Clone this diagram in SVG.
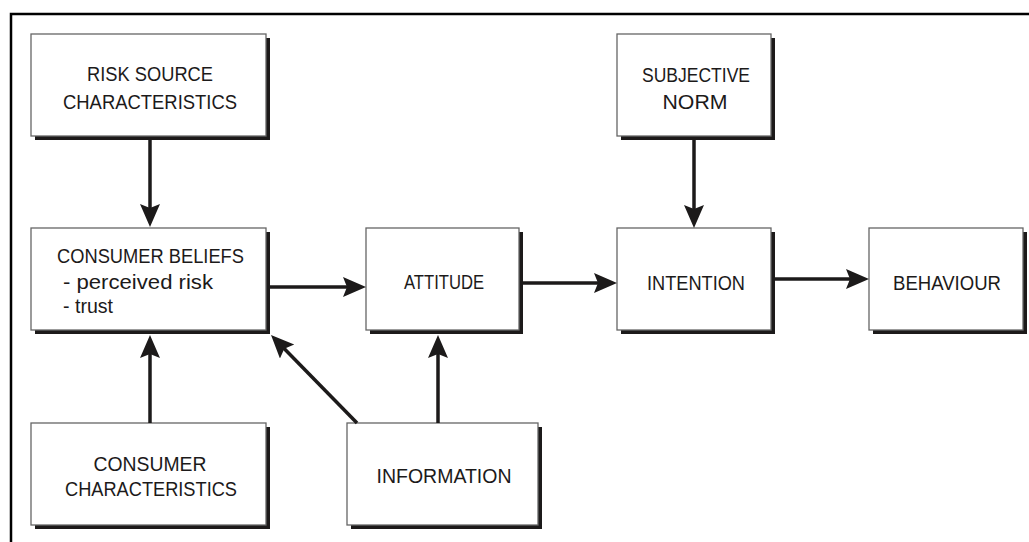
<svg xmlns="http://www.w3.org/2000/svg" width="1029" height="542" viewBox="0 0 1029 542">
<style>
.sh{fill:#1c1a1a}
.bx{fill:#ffffff;stroke:#666;stroke-width:1.3}
.t{font-family:"Liberation Sans",Arial,sans-serif;font-size:19.5px;fill:#1c1a1a;text-anchor:middle}
.tl{font-family:"Liberation Sans",Arial,sans-serif;font-size:19.5px;fill:#1c1a1a}
.c{stroke:#1c1a1a;stroke-width:3.5;fill:none;marker-end:url(#ah)}
.fr{stroke:#000;stroke-width:2.5;fill:none}
</style>
<defs>
<marker id="ah" markerUnits="userSpaceOnUse" markerWidth="26" markerHeight="22" refX="13" refY="10" orient="auto">
<path d="M0,0 L23,10 L0,20 L4,10 Z" fill="#1c1a1a"/>
</marker>
</defs>
<rect width="1029" height="542" fill="#ffffff"/>
<g id="frame">
<path class="fr" d="M11,542 L11,14 L1029,14"/>
</g>
<g id="risk-source">
<rect class="sh" x="35" y="38" width="235" height="102"/>
<rect class="bx" x="31" y="34" width="235" height="102"/>
<text class="t" x="150" y="81" textLength="126" lengthAdjust="spacingAndGlyphs">RISK SOURCE</text>
<text class="t" x="150" y="109" textLength="174" lengthAdjust="spacingAndGlyphs">CHARACTERISTICS</text>
</g>
<g id="consumer-beliefs">
<rect class="sh" x="35" y="232" width="235" height="102"/>
<rect class="bx" x="31" y="228" width="235" height="102"/>
<text class="tl" x="57" y="262.5" textLength="187" lengthAdjust="spacingAndGlyphs">CONSUMER BELIEFS</text>
<text class="tl" x="63" y="289" textLength="150" lengthAdjust="spacingAndGlyphs">- perceived risk</text>
<text class="tl" x="63" y="313" textLength="50" lengthAdjust="spacingAndGlyphs">- trust</text>
</g>
<g id="consumer-characteristics">
<rect class="sh" x="35" y="427" width="235" height="102"/>
<rect class="bx" x="31" y="423" width="235" height="102"/>
<text class="t" x="150" y="470.5" textLength="113" lengthAdjust="spacingAndGlyphs">CONSUMER</text>
<text class="t" x="151" y="495.5" textLength="172" lengthAdjust="spacingAndGlyphs">CHARACTERISTICS</text>
</g>
<g id="attitude">
<rect class="sh" x="370" y="232" width="153" height="102"/>
<rect class="bx" x="366" y="228" width="153" height="102"/>
<text class="t" x="444" y="289" textLength="80" lengthAdjust="spacingAndGlyphs">ATTITUDE</text>
</g>
<g id="information">
<rect class="sh" x="351" y="427" width="191" height="102"/>
<rect class="bx" x="347" y="423" width="191" height="102"/>
<text class="t" x="444" y="483" textLength="135" lengthAdjust="spacingAndGlyphs">INFORMATION</text>
</g>
<g id="subjective-norm">
<rect class="sh" x="621" y="38" width="154" height="102"/>
<rect class="bx" x="617" y="34" width="154" height="102"/>
<text class="t" x="696" y="82" textLength="108" lengthAdjust="spacingAndGlyphs">SUBJECTIVE</text>
<text class="t" x="695" y="109" textLength="65" lengthAdjust="spacingAndGlyphs">NORM</text>
</g>
<g id="intention">
<rect class="sh" x="621" y="232" width="154" height="102"/>
<rect class="bx" x="617" y="228" width="154" height="102"/>
<text class="t" x="696" y="290" textLength="98" lengthAdjust="spacingAndGlyphs">INTENTION</text>
</g>
<g id="behaviour">
<rect class="sh" x="873" y="232" width="154" height="102"/>
<rect class="bx" x="869" y="228" width="154" height="102"/>
<text class="t" x="947" y="290" textLength="108" lengthAdjust="spacingAndGlyphs">BEHAVIOUR</text>
</g>
<g id="connectors">
<line class="c" x1="150" y1="140" x2="150" y2="217"/>
<line class="c" x1="150" y1="423" x2="150" y2="345"/>
<line class="c" x1="270" y1="287" x2="356" y2="287"/>
<line class="c" x1="357" y1="423" x2="278" y2="342.2"/>
<line class="c" x1="438" y1="423" x2="438" y2="345"/>
<line class="c" x1="523" y1="283" x2="607" y2="283"/>
<line class="c" x1="694" y1="140" x2="694" y2="218"/>
<line class="c" x1="775" y1="279" x2="859" y2="279"/>
</g>
</svg>
